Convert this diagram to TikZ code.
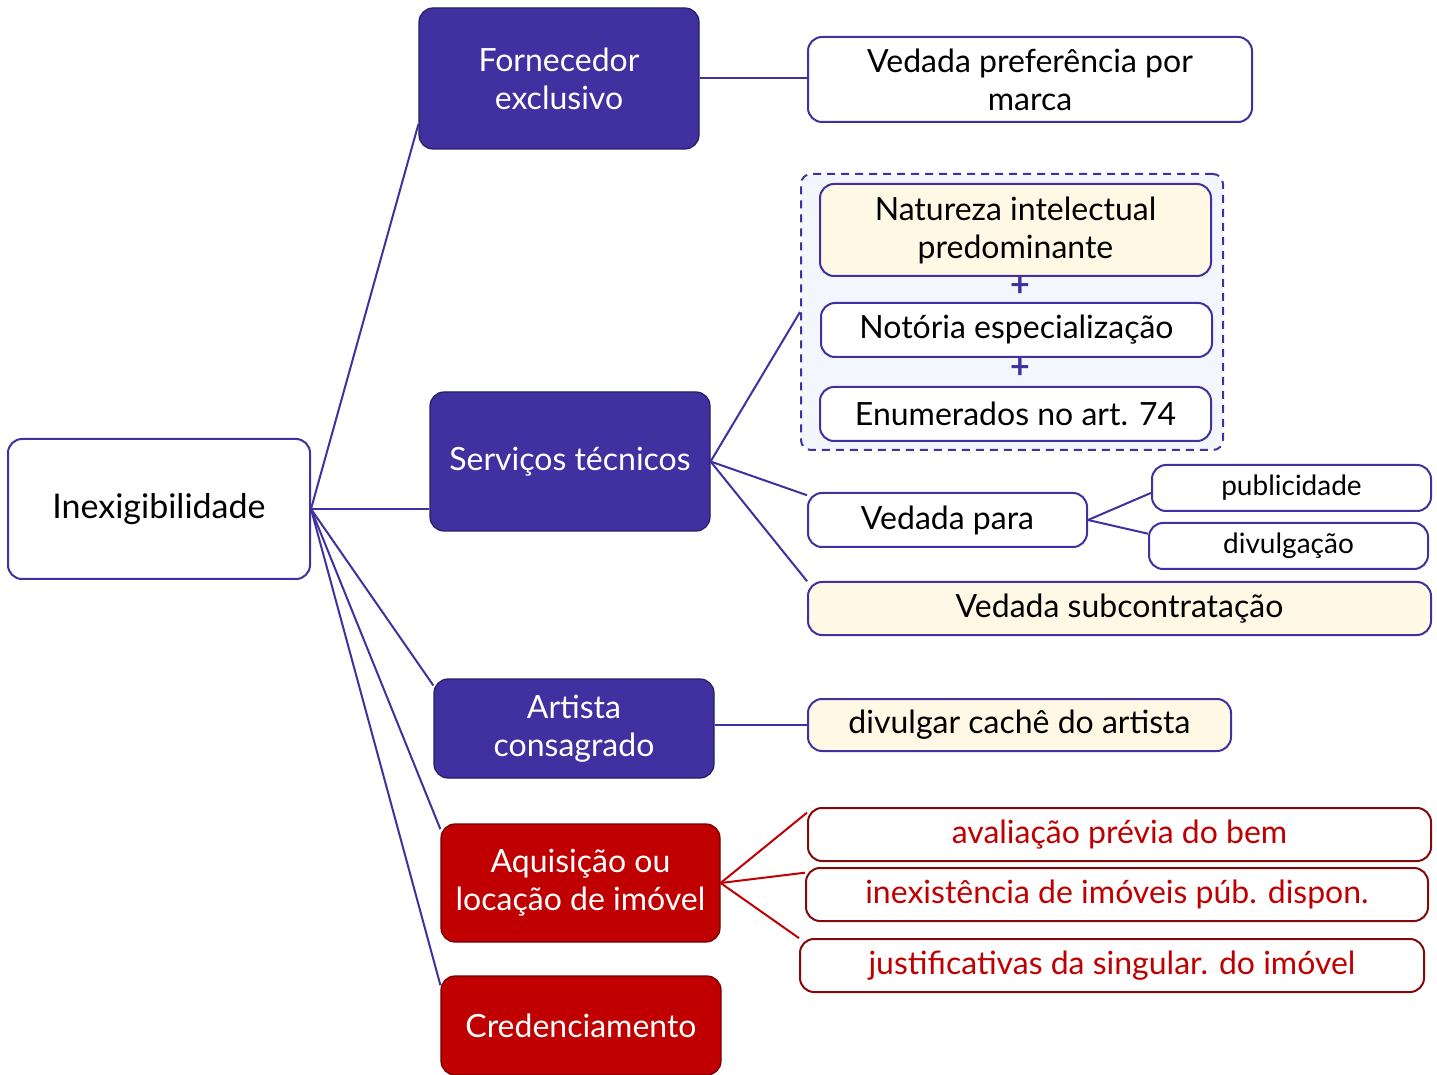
\documentclass[tikz,border=0pt]{standalone}
\usepackage{fontspec}
\setmainfont{Lato}
\usetikzlibrary{positioning}
\definecolor{ind}{RGB}{64,48,160}
\definecolor{redf}{RGB}{192,0,0}
\definecolor{redd}{RGB}{130,10,10}
\definecolor{cremef}{RGB}{255,248,229}
\definecolor{grpf}{RGB}{243,246,252}
\begin{document}
\begin{tikzpicture}[x=0.5pt,y=-0.5pt,font=\fontsize{16}{19}\selectfont,
box/.style={draw=ind,line width=1pt,rounded corners=7pt,fill=white,align=center,inner sep=2pt},
head/.style={box,fill=ind,draw=ind!60!black,line width=0.6pt,text=white,minimum width=140pt},
redhead/.style={head,fill=redf,draw=redf!60!black},
cream/.style={box,fill=cremef},
redbox/.style={box,draw=redd,text=redf},
con/.style={ind,line width=1pt},
redcon/.style={redf,line width=1pt}]
\useasboundingbox (0,0) rectangle (1437,1075);
% root and first level
\node[box,minimum width=151pt,minimum height=70pt,font=\fontsize{17}{20}\selectfont] (root) at (159,509) {Inexigibilidade};
\node[head,minimum height=70.5pt] (forn) at (559,78.5) {Fornecedor\\exclusivo};
\node[head,minimum height=69.5pt] (serv) at (570,461.5) {Serviços técnicos};
\node[head,minimum height=49.5pt] (art) at (574,728.5) {Artista\\consagrado};
\node[redhead,minimum width=139.5pt,minimum height=59pt] (aquis) at (580.5,883) {Aquisição ou\\locação de imóvel};
\node[redhead,minimum height=49.5pt] (cred) at (581,1025.5) {Credenciamento};
% fornecedor
\node[box,minimum width=222pt,minimum height=42.5pt] (vmarca) at (1030,79.5) {Vedada preferência por\\marca};
% servicos tecnicos
\node[draw=ind,dash pattern=on 4pt off 3pt,line width=1pt,fill=grpf,rounded corners=5pt,minimum width=211pt,minimum height=138pt] (grp) at (1012,312) {};
\node[cream,minimum width=195.5pt,minimum height=46pt] (nat) at (1015.5,230) {Natureza intelectual\\predominante};
\node[text=ind,inner sep=0pt,font=\fontsize{17}{19}\bfseries] (plusa) at (1020,287) {+};
\node[box,minimum width=195.5pt,minimum height=27pt] (noto) at (1016.5,330) {Notória especialização};
\node[text=ind,inner sep=0pt,font=\fontsize{17}{19}\bfseries] (plusb) at (1020,369) {+};
\node[box,minimum width=195.5pt,minimum height=27pt] (enum) at (1015.5,414) {Enumerados no art. 74};
\node[box,minimum width=139.5pt,minimum height=27pt] (vpara) at (947.5,520) {Vedada para};
\node[box,minimum width=139.5pt,minimum height=23pt,font=\fontsize{14}{17}\selectfont] (pub) at (1291.5,488) {publicidade};
\node[box,minimum width=139.5pt,minimum height=23pt,font=\fontsize{14}{17}\selectfont] (divu) at (1288.5,546) {divulgação};
\node[cream,minimum width=311.5pt,minimum height=26.5pt] (vsub) at (1119.5,608.5) {Vedada subcontratação};
% artista
\node[cream,minimum width=211.5pt,minimum height=26pt] (cache) at (1019.5,725) {divulgar cachê do artista};
% imovel
\node[redbox,minimum width=311.5pt,minimum height=26.5pt] (aval) at (1119.5,834.5) {avaliação prévia do bem};
\node[redbox,minimum width=311pt,minimum height=26.5pt] (inex) at (1117,894.5) {inexistência de imóveis púb. dispon.};
\node[redbox,minimum width=312pt,minimum height=26.5pt] (just) at (1112,965.5) {justificativas da singular. do imóvel};
% connectors
\draw[con] (root.east)--(forn.198); \draw[con] (root.east)--(root.east -| serv.west);
\draw[con] (root.east)--(art.163.5); \draw[con] (root.east)--(aquis.159.3);
\draw[con] (root.east)--(cred.164);
\draw[con] (forn.east)--(forn.east -| vmarca.west);
\draw[con] (serv.east)--(grp.west); \draw[con] (serv.east)--(vpara.170.6);
\draw[con] (serv.east)--(vsub.175.7);
\draw[con] (vpara.east)--(pub.182.5); \draw[con] (vpara.east)--(divu.175.5);
\draw[con] (cache.west -| art.east)--(cache.west);
\draw[redcon] (aquis.east)--(aval.176.4); \draw[redcon] (aquis.east)--(inex.176);
\draw[redcon] (aquis.east)--(just.175.7);
\end{tikzpicture}
\end{document}
